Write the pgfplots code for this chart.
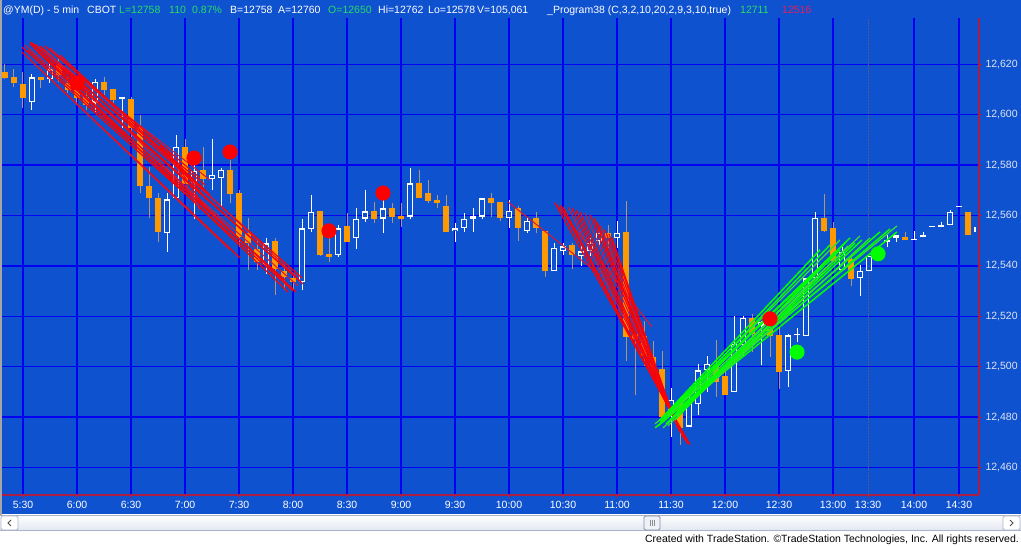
\documentclass[border=0pt]{standalone}
\usepackage{fontspec}
\setmainfont{Liberation Sans}
\usepackage{pgfplots}
\usepackage{pgfplotstable}
\pgfplotsset{compat=1.18}
\definecolor{bgblue}{RGB}{15,82,208}
\definecolor{gridblue}{RGB}{0,0,245}
\definecolor{axred}{RGB}{170,30,70}
\definecolor{candleor}{RGB}{255,153,0}
\definecolor{wickor}{RGB}{176,150,120}
\definecolor{lred}{RGB}{255,0,0}
\definecolor{dred}{RGB}{225,20,45}
\definecolor{lgreen}{RGB}{0,255,0}
\definecolor{dgreen}{RGB}{50,225,50}
\definecolor{hgreen}{RGB}{40,220,100}
\definecolor{hred}{RGB}{230,30,90}
\definecolor{labgrey}{RGB}{225,228,240}
\definecolor{sessgrey}{RGB}{80,90,140}
\definecolor{sbborder}{RGB}{170,180,200}

% down (orange) candles: bar open high low close
\pgfplotstableread{
x o h l c
0 12616.8 12620 12614 12614.7
1 12614.8 12618 12611.1 12612.7
2 12612.2 12616.8 12602.8 12606.8
4 12615 12615 12610.7 12613.9
6 12619.7 12622 12613 12615.8
7 12612.5 12615 12608.5 12609.8
8 12611 12614 12604 12606.5
9 12607.2 12609 12602 12603.9
11 12612.9 12615.1 12607.8 12609.8
12 12610.2 12610.2 12604.8 12605.8
14 12606.2 12607.2 12591.3 12594.9
15 12595 12599.9 12568.8 12571.9
16 12571.9 12579.4 12558.9 12566.8
17 12566.8 12568.8 12549.6 12553.6
20 12587.1 12590.2 12572.5 12572.5
22 12578 12587.3 12571.5 12574.4
25 12578 12582 12564.8 12568.5
26 12568.8 12570.1 12547.6 12551.6
27 12552.9 12558.9 12538.4 12549
28 12546.9 12550.9 12538.3 12541.6
30 12550 12550.9 12528.4 12538.6
31 12538 12540.3 12530.4 12535.7
32 12535 12536.3 12530.4 12533.7
35 12561.7 12561.7 12544 12544.3
36 12544.6 12550.9 12541.6 12543.6
38 12555.8 12560.8 12549.6 12549.6
41 12561.7 12565.4 12556.9 12558.8
43 12562.8 12564.8 12556.9 12559.5
44 12559.8 12564.8 12555.5 12558.8
46 12572.7 12578 12566.8 12566.8
47 12568.8 12574 12564.8 12565.8
48 12566.1 12568.1 12562.8 12564.8
49 12563.7 12568.1 12553.5 12553.5
54 12566.8 12568.8 12559.5 12564.8
55 12565.3 12565.3 12557.8 12559.1
57 12563 12563.7 12549.8 12555.1
59 12559.1 12561.3 12553.1 12555.1
60 12554 12554 12535.7 12537.9
63 12548.1 12548.9 12538.6 12544.5
67 12553.1 12556.4 12547.2 12551.1
69 12553.4 12565.7 12502.2 12511.9
70 12512.8 12512.8 12488.6 12510.8
71 12512.1 12518.1 12500.2 12504.2
72 12503.9 12510.1 12498 12498.9
73 12498.9 12506.4 12479.7 12479.9
75 12486.1 12488.1 12468.9 12475.5
79 12500.5 12510.4 12488 12493.9
80 12496.2 12498.5 12488.6 12488.8
83 12519.3 12521 12505.8 12513
85 12515 12520.3 12503.8 12512.1
86 12512.4 12515.4 12491.1 12498
91 12559.2 12568.5 12553.3 12553.8
92 12555.2 12557.3 12541.6 12542
94 12542.6 12544.8 12532 12534.8
100 12551.4 12553.4 12550.1 12550.1
107 12561.3 12561.3 12552.1 12552.1
}\downtab

% up (hollow white) candles
\pgfplotstableread{
x o h l c
3 12604.9 12616 12601.9 12614.8
5 12614 12621 12612.7 12618
10 12604.8 12614.1 12601.2 12612.9
13 12606.1 12606.9 12594.6 12606.9
18 12552.9 12568.8 12545.7 12566.4
19 12566.8 12592 12566.8 12587.1
21 12572.8 12582.7 12558.6 12577.8
23 12574.4 12590.2 12570.1 12576.1
24 12574.8 12579 12563.5 12578
29 12540.3 12550.9 12536.7 12548.9
33 12533.7 12558.8 12530.4 12554.9
34 12554.6 12568.1 12553.5 12561.5
37 12544.3 12556.2 12543.6 12554.9
39 12550.9 12562.8 12546.9 12558.8
40 12558.8 12570.1 12557.5 12561.6
42 12558.8 12566.1 12552.9 12562.8
45 12559.5 12578.7 12558.8 12572.7
50 12553.8 12556.9 12549.6 12554.9
51 12554.9 12560.8 12553.5 12558.8
52 12558.8 12562.8 12553.5 12559.8
53 12559.5 12566.8 12558.8 12566.8
56 12559.1 12566.3 12555.1 12561.7
58 12553.8 12559.1 12553.1 12557.8
61 12537.9 12549.2 12537.9 12547.2
62 12545.8 12549.2 12544.5 12547.8
64 12543.9 12547.8 12539.9 12545.8
65 12545.8 12551.1 12543.9 12549.2
66 12549.8 12554.4 12547.8 12553.1
68 12551.1 12557.8 12547.2 12553.1
74 12480.8 12491.4 12472.2 12486.7
76 12476.2 12488.7 12476.2 12486.1
77 12485.2 12501 12481 12498.5
78 12498.5 12504.4 12489.8 12501
81 12489.9 12520.3 12489.9 12509
82 12508.5 12520.3 12503.8 12519.3
84 12516.3 12518.3 12500.5 12517.7
87 12498.1 12513.1 12491.9 12512.4
88 12512.4 12515.3 12509.7 12512.6
89 12512.1 12535.1 12512.1 12535.1
90 12535 12561.3 12535 12559.2
93 12538.3 12547.4 12538.2 12545.5
95 12535 12540.2 12528.2 12538
96 12538 12544.1 12538 12544.1
97 12544.5 12548 12543.5 12547.5
98 12549.4 12552.1 12547.4 12550.3
99 12551.1 12552.1 12549.4 12552.1
101 12550.1 12554 12550.1 12550.1
102 12551.4 12553.4 12551.4 12552.3
103 12555.4 12555.4 12555.4 12555.4
104 12555.4 12557.4 12555.4 12556.3
105 12556.3 12562 12556.3 12561.3
106 12563.3 12563.3 12563.3 12563.3
}\uptab

\pgfplotsset{
  nomarks/.style={only marks, mark=*, mark size=0pt, mark options={draw=none, fill=none}},
  wick/.style={nomarks, error bars/.cd, y dir=plus, y explicit, error mark=none,
    error bar style={draw=#1, line width=1pt, line cap=butt}},
  body/.style 2 args={nomarks, error bars/.cd, y dir=plus, y explicit, error mark=none,
    error bar style={draw=#1, line width=#2, line cap=butt}},
  redA/.style={lred, line width=1.2pt},
  redB/.style={dred, line width=1pt},
  grnA/.style={lgreen, line width=1.5pt},
  grnB/.style={dgreen, line width=1.2pt},
}

\begin{document}
\begin{tikzpicture}
\useasboundingbox (0pt,0pt) rectangle (1021pt,546pt);
\fill[bgblue] (0pt,31pt) rectangle (1021pt,546pt);
\fill[white] (0pt,0pt) rectangle (1021pt,15pt);
% scrollbar
\shade[top color=white, bottom color={rgb,255:red,226;green,230;blue,240}] (0pt,15pt) rectangle (1021pt,31pt);
\draw[sbborder, line width=0.8pt] (0pt,15.4pt) -- (1021pt,15.4pt) (0pt,30.6pt) -- (1021pt,30.6pt);
\draw[sbborder, fill=white, rounded corners=1.5pt, line width=0.8pt] (1pt,16pt) rectangle (18pt,30pt);
\draw[sbborder, fill=white, rounded corners=1.5pt, line width=0.8pt] (1003pt,16pt) rectangle (1020pt,30pt);
\draw[black!70, line width=1pt] (11pt,26pt) -- (8pt,23pt) -- (11pt,20pt);
\draw[black!70, line width=1pt] (1010pt,26pt) -- (1013pt,23pt) -- (1010pt,20pt);
\draw[sbborder!80!black, fill={rgb,255:red,238;green,241;blue,248}, rounded corners=1.5pt, line width=0.8pt] (644pt,16pt) rectangle (660pt,30pt);
\draw[black!45, line width=0.6pt] (650pt,20pt) -- (650pt,26pt) (652pt,20pt) -- (652pt,26pt) (654pt,20pt) -- (654pt,26pt);
% left border
\fill[black!35] (0pt,31pt) rectangle (1.5pt,546pt);

\begin{axis}[
  at={(2pt,51pt)}, anchor=south west,
  width=977pt, height=477pt, scale only axis,
  xmin=-0.333, xmax=108.22, ymin=12449.09, ymax=12638.37,
  axis x line*=bottom, axis y line*=right,
  axis line style={axred, line width=1.3pt},
  tick style={axred, line width=1pt},
  major tick length=3pt, tick align=outside,
  xtick={2,8,14,20,26,32,38,44,50,56,62,68,74,80,86,92,101,106},
  xticklabels={5:30,6:00,6:30,7:00,7:30,8:00,8:30,9:00,9:30,10:00,10:30,11:00,11:30,12:00,12:30,13:00,14:00,14:30},
  extra x ticks={95.9}, extra x tick labels={13:30},
  extra x tick style={xmajorgrids=true, major grid style={draw=sessgrey, line width=1pt, dash pattern=on 1.5pt off 1.5pt}},
  ytick={12460,12480,12500,12520,12540,12560,12580,12600,12620},
  scaled y ticks=false,
  /pgf/number format/assume math mode=true,
  /pgf/number format/1000 sep={,},
  tick label style={font=\fontsize{10.5}{12}\selectfont},
  xticklabel style={text=white},
  yticklabel style={text=labgrey},
  grid=major,
  major grid style={gridblue, line width=1.3pt},
]
% wicks
\addplot[wick=wickor] table[x=x, y=l, y error plus expr={\thisrow{h}-\thisrow{l}}] {\downtab};
\addplot[wick=white] table[x=x, y=l, y error plus expr={\thisrow{h}-\thisrow{l}}] {\uptab};
% bodies
\addplot[body={candleor}{6.3pt}] table[x=x, y=c, y error plus expr={max(\thisrow{o}-\thisrow{c},0.45)}] {\downtab};
\addplot[body={white}{6.5pt}] table[x=x, y=o, y error plus expr={max(\thisrow{c}-\thisrow{o},0.45)}] {\uptab};
\addplot[body={bgblue}{4pt}] table[x=x, y expr={\thisrow{o}+0.5}, y error plus expr={max(\thisrow{c}-\thisrow{o}-1.0,0)}] {\uptab};
% last price marker
\addplot[body={white}{2pt}] coordinates {(107.72,12553.4) += (0,2.1)};

% red down-trend fan 1
\addplot[redA] coordinates {(1.889,12626.86) (32.000,12530.08)};
\addplot[redB] coordinates {(2.222,12627.66) (32.556,12532.06)};
\addplot[redA] coordinates {(2.778,12628.05) (32.778,12534.04)};
\addplot[redA] coordinates {(3.222,12626.47) (32.333,12529.68)};
\addplot[redA] coordinates {(3.889,12627.26) (33.000,12535.23)};
\addplot[redB] coordinates {(4.444,12625.67) (31.667,12531.27)};
\addplot[redA] coordinates {(2.556,12625.67) (31.111,12534.44)};
\addplot[redA] coordinates {(3.667,12624.88) (31.444,12529.68)};
\addplot[redA] coordinates {(3.000,12628.45) (33.111,12532.85)};
\addplot[redB] coordinates {(5.000,12626.47) (32.333,12536.03)};
\addplot[redA] coordinates {(2.778,12628.85) (22.222,12572.12)};
\addplot[redB] coordinates {(3.333,12628.05) (22.778,12574.11)};
\addplot[redA] coordinates {(4.444,12627.26) (21.667,12574.90)};
\addplot[redA] coordinates {(6.111,12623.69) (22.222,12570.14)};
\addplot[redA] coordinates {(1.889,12624.88) (26.111,12543.17)};
\addplot[redB] coordinates {(2.222,12623.69) (25.000,12546.34)};
\addplot[redA] coordinates {(17.222,12587.99) (22.444,12566.17)};
\addplot[redA] coordinates {(18.000,12586.01) (22.000,12564.19)};
\addplot[redB] coordinates {(18.333,12584.02) (21.667,12562.21)};
\addplot[redA] coordinates {(16.111,12589.97) (22.778,12568.16)};
% red down-trend fan 2
\addplot[redB] coordinates {(55.889,12565.38) (66.111,12536.42)};
\addplot[redB] coordinates {(61.111,12564.98) (71.889,12515.80)};
\addplot[redA] coordinates {(61.111,12564.98) (76.111,12468.99)};
\addplot[redA] coordinates {(61.667,12564.19) (75.889,12469.39)};
\addplot[redA] coordinates {(62.000,12563.40) (75.778,12469.78)};
\addplot[redB] coordinates {(62.556,12563.40) (75.667,12470.58)};
\addplot[redA] coordinates {(63.000,12563.00) (75.556,12470.97)};
\addplot[redA] coordinates {(63.444,12562.21) (75.444,12471.77)};
\addplot[redA] coordinates {(63.889,12561.41) (75.333,12472.16)};
\addplot[redB] coordinates {(64.444,12561.02) (75.222,12472.96)};
\addplot[redA] coordinates {(65.000,12560.22) (75.000,12474.15)};
\addplot[redA] coordinates {(65.444,12559.03) (74.889,12474.94)};
\addplot[redA] coordinates {(65.778,12557.45) (74.778,12475.73)};
\addplot[redB] coordinates {(66.222,12555.86) (74.556,12477.32)};
\addplot[redA] coordinates {(66.667,12554.27) (74.444,12478.91)};
\addplot[redA] coordinates {(67.111,12552.69) (74.333,12479.70)};
\addplot[redA] coordinates {(67.444,12551.10) (74.111,12480.89)};
% dots
\addplot[only marks, color=lred, mark=*, mark size=7.3pt, mark options={fill=lred, draw=none}] coordinates {(8,12612.6) (21,12582.8) (25,12585.2) (36,12553.9) (42,12568.9) (85,12519.0)};
% green up-trend fan
\addplot[grnA] coordinates {(72.222,12475.73) (99.111,12553.48)};
\addplot[grnB] coordinates {(72.222,12477.32) (99.111,12555.86)};
\addplot[grnA] coordinates {(72.556,12476.53) (98.333,12554.67)};
\addplot[grnA] coordinates {(72.778,12478.11) (97.222,12553.48)};
\addplot[grnB] coordinates {(73.111,12475.73) (96.111,12551.10)};
\addplot[grnA] coordinates {(73.444,12477.32) (95.222,12550.31)};
\addplot[grnA] coordinates {(73.889,12478.91) (94.444,12549.12)};
\addplot[grnB] coordinates {(73.667,12476.53) (93.667,12547.93)};
\addplot[grnA] coordinates {(74.111,12479.70) (92.778,12546.34)};
\addplot[grnA] coordinates {(74.444,12478.91) (92.222,12545.55)};
\addplot[grnA] coordinates {(73.333,12479.70) (93.889,12551.10)};
\addplot[grnB] coordinates {(73.333,12480.89) (92.778,12550.31)};
\addplot[grnA] coordinates {(73.889,12482.08) (91.667,12548.32)};
\addplot[grnA] coordinates {(72.778,12478.91) (90.556,12546.34)};
\addplot[grnA] coordinates {(73.000,12479.70) (93.333,12549.12)};
\addplot[grnB] coordinates {(73.667,12480.49) (95.000,12551.89)};
\addplot[only marks, color=lgreen, mark=*, mark size=7.3pt, mark options={fill=lgreen, draw=none}] coordinates {(88,12505.8) (97,12544.8)};
\end{axis}

% header
\begin{scope}[every node/.style={anchor=base west, inner sep=0pt, font=\fontsize{10.5}{12}\selectfont}]
\node[text=white] at (3pt,532.7pt) {@YM(D) - 5 min};
\node[text=white] at (87pt,532.7pt) {CBOT};
\node[text=hgreen] at (119pt,532.7pt) {L=12758};
\node[text=hgreen] at (169pt,532.7pt) {110};
\node[text=hgreen] at (192pt,532.7pt) {0.87\%};
\node[text=white] at (230pt,532.7pt) {B=12758};
\node[text=white] at (278pt,532.7pt) {A=12760};
\node[text=hgreen] at (328pt,532.7pt) {O=12650};
\node[text=white] at (378pt,532.7pt) {Hi=12762};
\node[text=white] at (428pt,532.7pt) {Lo=12578};
\node[text=white] at (477pt,532.7pt) {V=105,061};
\node[text=white] at (547pt,532.7pt) {\_Program38 (C,3,2,10,20,2,9,3,10,true)};
\node[text=hgreen] at (740pt,532.7pt) {12711};
\node[text=hred] at (782pt,532.7pt) {12516};
\end{scope}
\node[anchor=base east, inner sep=0pt, font=\fontsize{10.5}{12}\selectfont, text=black] at (1019pt,3pt) {Created with TradeStation. ©TradeStation Technologies, Inc. All rights reserved.};
\end{tikzpicture}
\end{document}
